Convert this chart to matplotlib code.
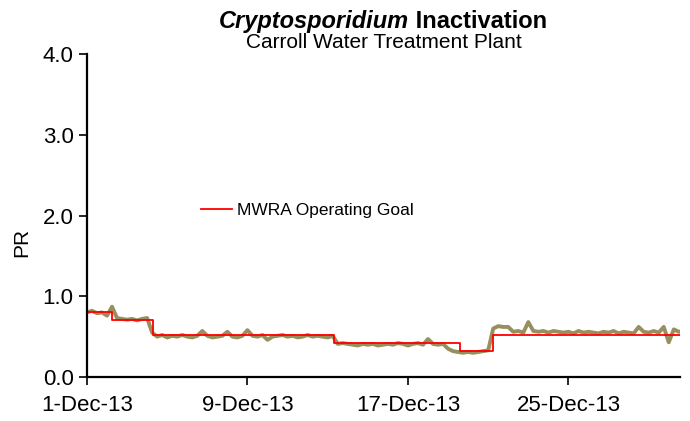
import matplotlib
matplotlib.use('Agg')
import matplotlib.pyplot as plt
import numpy as np

plt.rcParams['font.family'] = ['Liberation Sans', 'DejaVu Sans']

# PR readings, 4 per day starting 1-Dec-13 (days since 1-Dec)
pr_values = [
    0.80, 0.82, 0.79, 0.80,   # 1 Dec
    0.76, 0.87, 0.73, 0.72,
    0.71, 0.72, 0.70, 0.72,
    0.73, 0.55, 0.50, 0.52,
    0.49, 0.51, 0.50, 0.52,   # 5 Dec
    0.50, 0.49, 0.51, 0.57,
    0.51, 0.49, 0.50, 0.51,
    0.56, 0.50, 0.49, 0.51,
    0.58, 0.51, 0.50, 0.52,
    0.46, 0.50, 0.51, 0.52,   # 10 Dec
    0.50, 0.51, 0.49, 0.50,
    0.52, 0.50, 0.51, 0.50,
    0.49, 0.51, 0.41, 0.42,
    0.41, 0.40, 0.39, 0.41,
    0.40, 0.41, 0.39, 0.40,   # 15 Dec
    0.41, 0.40, 0.42, 0.41,
    0.39, 0.41, 0.42, 0.40,
    0.47, 0.41, 0.40, 0.41,
    0.35, 0.32, 0.31, 0.30,
    0.31, 0.30, 0.31, 0.32,   # 20 Dec
    0.33, 0.60, 0.63, 0.62,
    0.62, 0.56, 0.57, 0.55,
    0.68, 0.57, 0.56, 0.57,
    0.55, 0.57, 0.56, 0.55,
    0.56, 0.54, 0.57, 0.55,   # 25 Dec
    0.56, 0.55, 0.54, 0.56,
    0.55, 0.57, 0.54, 0.56,
    0.55, 0.54, 0.62, 0.56,
    0.55, 0.57, 0.55, 0.62,
    0.43, 0.59, 0.56, 0.57,   # 30 Dec
]
pr_days = np.arange(len(pr_values)) / 4.0

# MWRA operating goal (step changes)
goal_days = [0, 1.25, 3.27, 12.3, 18.6, 20.25, 29.56]
goal_values = [0.80, 0.70, 0.52, 0.42, 0.32, 0.52, 0.52]

tick_days = [0, 8, 16, 24]
tick_labels = ['1-Dec-13', '9-Dec-13', '17-Dec-13', '25-Dec-13']

fig = plt.figure(figsize=(6.9, 4.21), dpi=100)
ax = fig.add_axes([0.126, 0.1045, 0.8595, 0.7672])

ax.plot(pr_days, pr_values, color='#978F5E', lw=2.8, solid_joinstyle='round')
ax.step(goal_days, goal_values, where='post', color='#FF0000', lw=1.3,
        label='MWRA Operating Goal')

ax.set_xlim(0, 29.56)
ax.set_ylim(0, 4)
ax.set_xticks(tick_days)
ax.set_xticklabels(tick_labels)
ax.set_yticks([0, 1, 2, 3, 4])
ax.set_yticklabels(['%.1f' % v for v in [0, 1, 2, 3, 4]])
ax.tick_params(direction='out', length=6, width=1.2, labelsize=16, colors='black')
ax.tick_params(axis='x', pad=7)
for s in ['top', 'right']:
    ax.spines[s].set_visible(False)
for s in ['left', 'bottom']:
    ax.spines[s].set_linewidth(1.6)
fig.text(22 / 690, 1 - 242 / 421, 'PR', fontsize=15, rotation=90, ha='center', va='center')

# title: italic organism name + bold word
fig.text(0.593, 0.948, 'Cryptosporidium', fontsize=17, fontstyle='italic', fontweight='bold',
         ha='right', va='center')
fig.text(0.593, 0.948, ' Inactivation', fontsize=17, fontweight='bold', ha='left', va='center')
fig.text(0.557, 0.899, 'Carroll Water Treatment Plant', fontsize=15, ha='center', va='center')

ax.legend(loc='center left', bbox_to_anchor=(0.291, 0.501), bbox_transform=fig.transFigure,
          frameon=False, fontsize=12.5, borderpad=0, borderaxespad=0,
          handlelength=1.8, handletextpad=0.3)

fig.savefig('out.png', dpi=100)
